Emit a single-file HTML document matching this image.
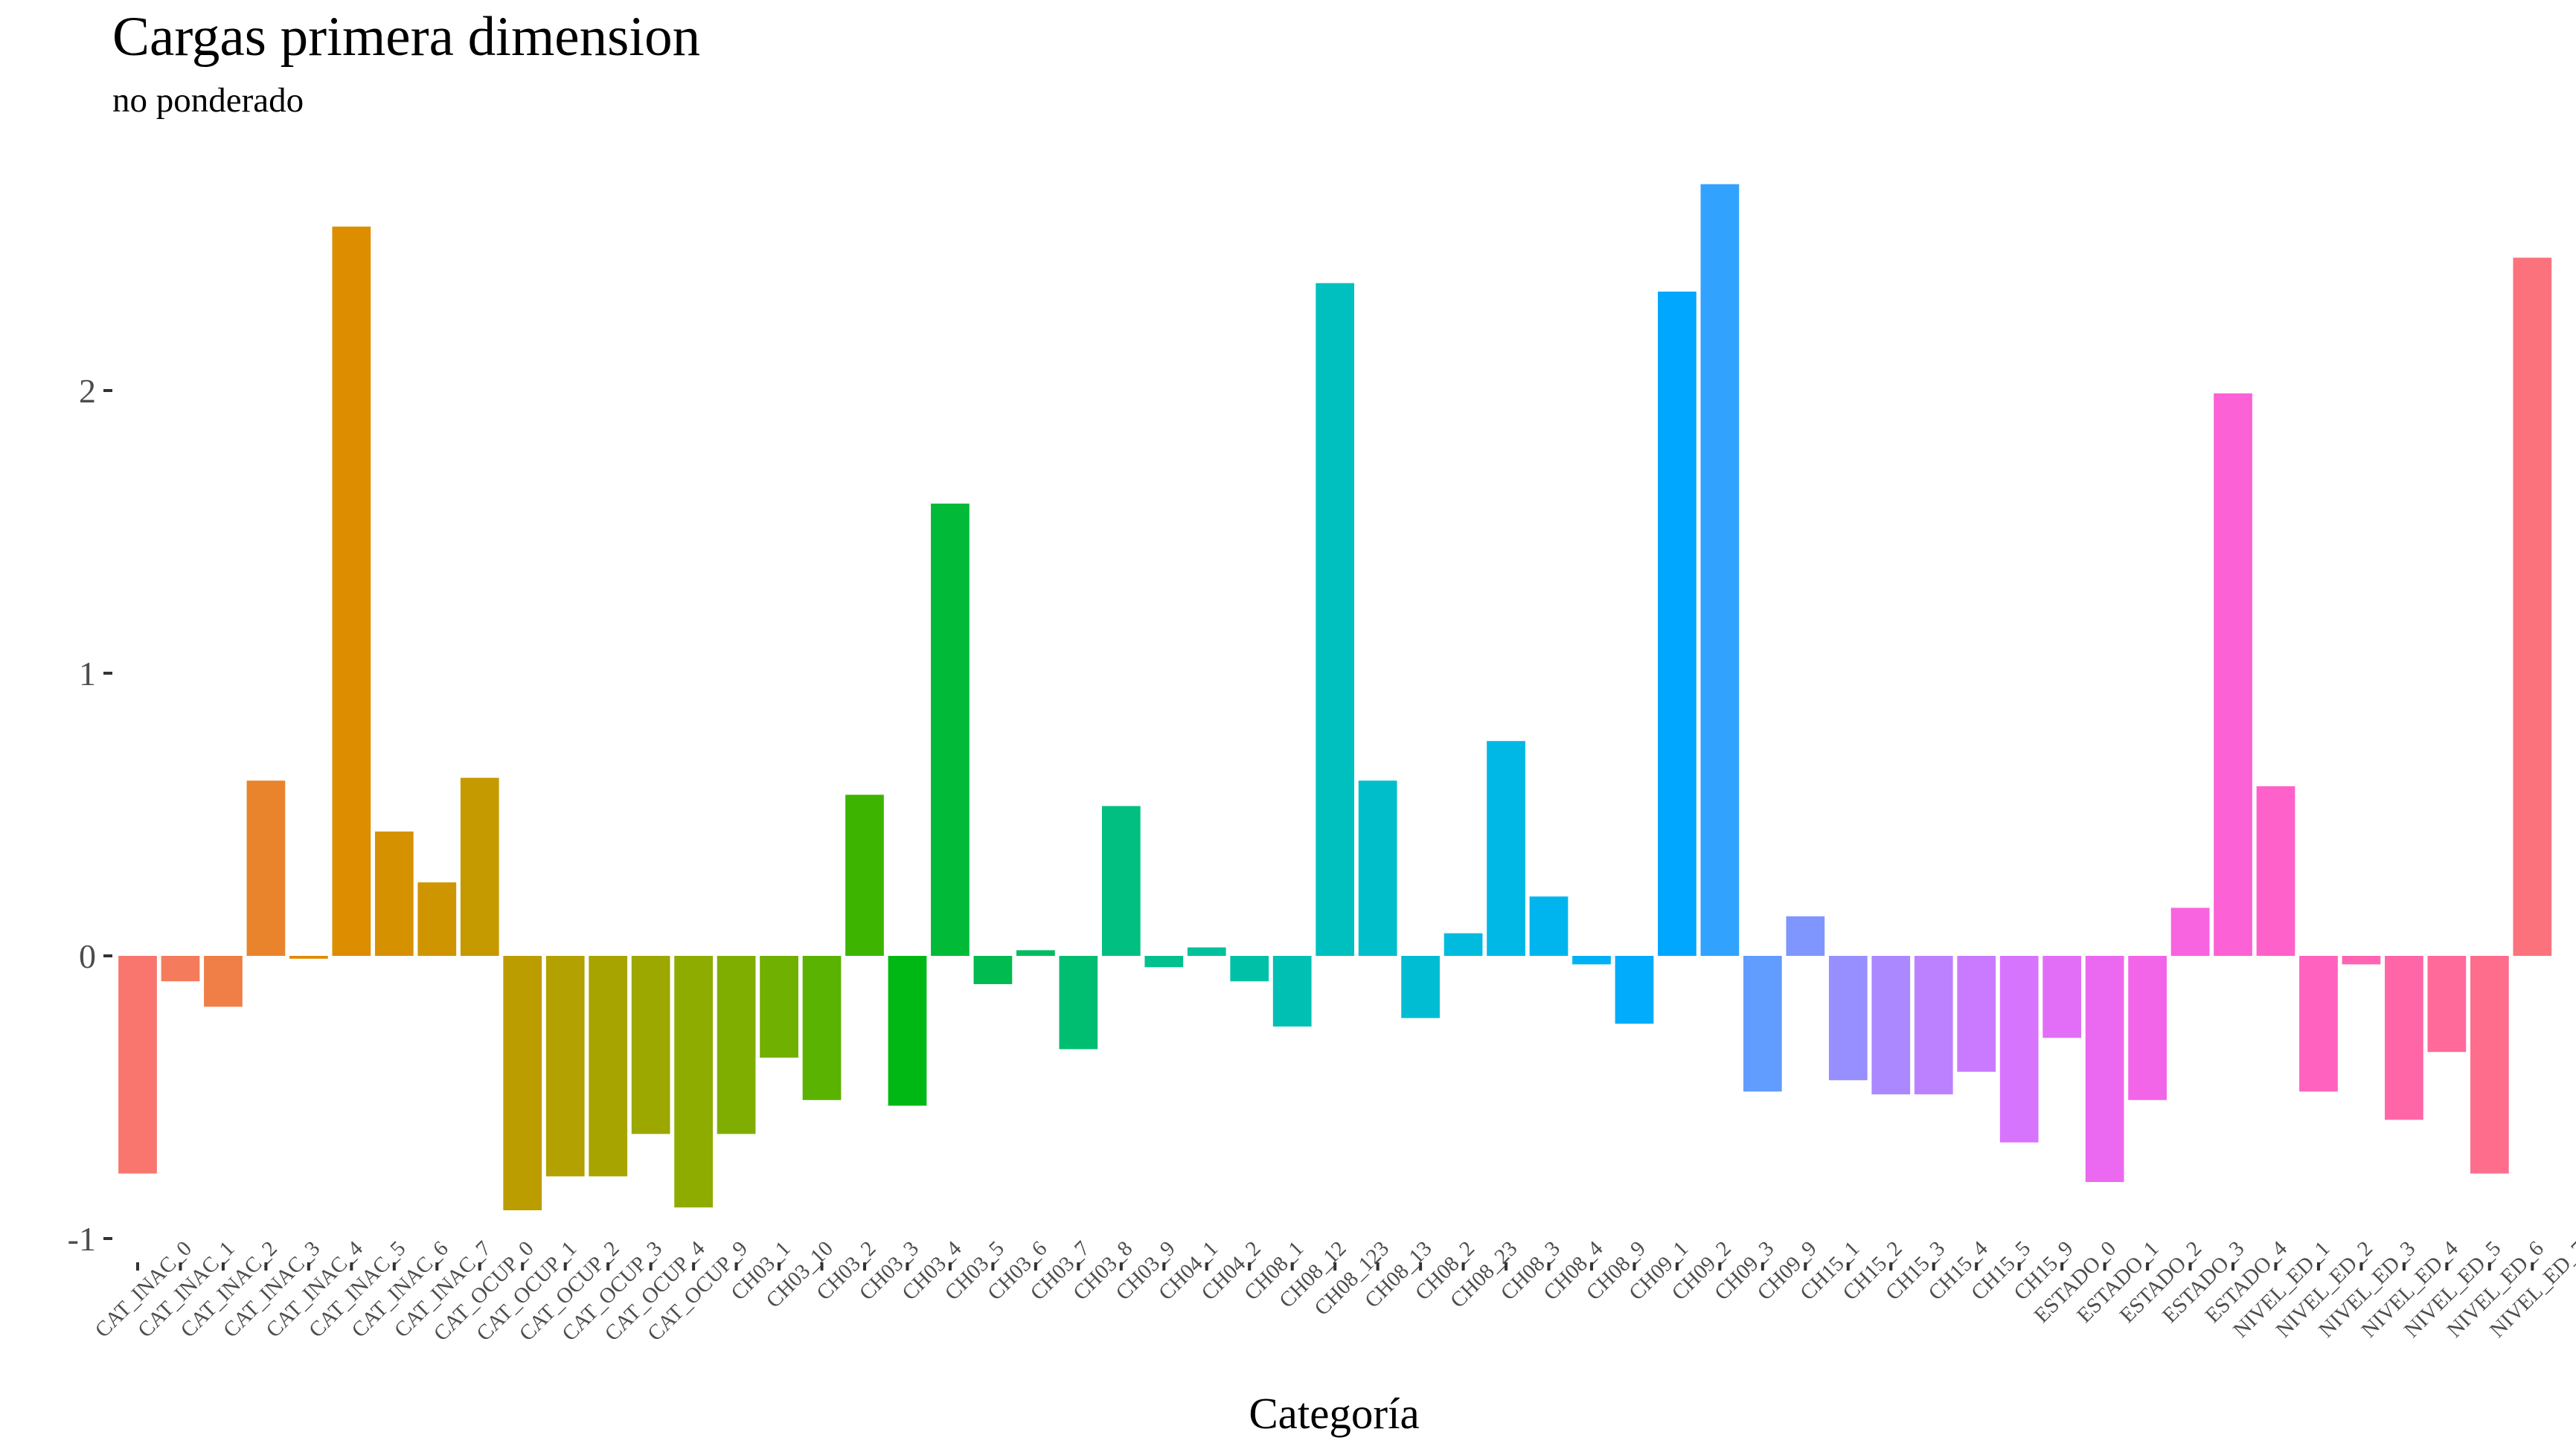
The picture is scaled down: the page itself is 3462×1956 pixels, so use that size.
<!DOCTYPE html>
<html><head><meta charset="utf-8"><style>
html,body{margin:0;padding:0;background:#fff;}
svg{display:block;font-family:"Liberation Serif",serif;}
</style></head><body>
<svg id="chart" width="3462" height="1956" viewBox="0 0 3462 1956" xmlns="http://www.w3.org/2000/svg">
<rect width="3462" height="1956" fill="#fff"/>
<text x="151" y="74" font-size="75" fill="#000">Cargas primera dimension</text>
<text x="151" y="150" font-size="47" fill="#000">no ponderado</text>
<text x="1793" y="1920" font-size="59" fill="#000" text-anchor="middle">Categoría</text>
<g id="yaxis"></g>
<g id="bars"></g>
<g id="xaxis"></g>
</svg>
<script>
const categories = ["CAT_INAC_0","CAT_INAC_1","CAT_INAC_2","CAT_INAC_3","CAT_INAC_4","CAT_INAC_5","CAT_INAC_6","CAT_INAC_7",
"CAT_OCUP_0","CAT_OCUP_1","CAT_OCUP_2","CAT_OCUP_3","CAT_OCUP_4","CAT_OCUP_9",
"CH03_1","CH03_10","CH03_2","CH03_3","CH03_4","CH03_5","CH03_6","CH03_7","CH03_8","CH03_9",
"CH04_1","CH04_2",
"CH08_1","CH08_12","CH08_123","CH08_13","CH08_2","CH08_23","CH08_3","CH08_4","CH08_9",
"CH09_1","CH09_2","CH09_3","CH09_9",
"CH15_1","CH15_2","CH15_3","CH15_4","CH15_5","CH15_9",
"ESTADO_0","ESTADO_1","ESTADO_2","ESTADO_3","ESTADO_4",
"NIVEL_ED_1","NIVEL_ED_2","NIVEL_ED_3","NIVEL_ED_4","NIVEL_ED_5","NIVEL_ED_6","NIVEL_ED_7"];
const values = [-0.77,-0.09,-0.18,0.62,-0.01,2.58,0.44,0.26,
0.63,-0.90,-0.78,-0.78,-0.63,-0.89,
-0.63,-0.36,-0.51,0.57,-0.53,1.60,-0.10,0.02,-0.33,0.53,
-0.04,0.03,
-0.09,-0.25,2.38,0.62,-0.22,0.08,0.76,0.21,-0.03,
-0.24,2.35,2.73,-0.48,
0.14,-0.44,-0.49,-0.49,-0.41,-0.66,
-0.29,-0.80,-0.51,0.17,1.99,
0.60,-0.48,-0.03,-0.58,-0.34,-0.77,2.47];
const yTicks = [-1,0,1,2];
const yTickLabels = ["-1","0","1","2"];

const NS="http://www.w3.org/2000/svg";
const x0=185, step=57.47, zeroY=1285, unit=380;
function xPos(i){return x0+i*step;}
function yPos(v){return zeroY - v*unit;}
function hcl(h,c,l){
  const hr=h*Math.PI/180,u=c*Math.cos(hr),v=c*Math.sin(hr);
  const Xn=95.047,Yn=100,Zn=108.883,d=Xn+15*Yn+3*Zn,un=4*Xn/d,vn=9*Yn/d;
  const Y=Yn*Math.pow((l+16)/116,3);
  const up=u/(13*l)+un,vp=v/(13*l)+vn;
  const X=9*Y*up/(4*vp),Z=-X/3-5*Y+3*Y/vp;
  const x=X/100,y=Y/100,z=Z/100;
  let r=3.2404542*x-1.5371385*y-0.4985314*z,g=-0.9692660*x+1.8760108*y+0.0415560*z,b=0.0556434*x-0.2040259*y+1.0572252*z;
  const gm=t=>{t=t<=0.0031308?12.92*t:1.055*Math.pow(t,1/2.4)-0.055;return Math.round(Math.max(0,Math.min(1,t))*255);};
  return "rgb("+gm(r)+","+gm(g)+","+gm(b)+")";
}
const n=categories.length;
const bars=document.getElementById('bars'),xa=document.getElementById('xaxis'),ya=document.getElementById('yaxis');
const hueDomain = categories.map((c,i)=>15+360*i/n);
categories.forEach((c,i)=>{
  const v=values[i],cx=xPos(i),w=step*0.9;
  const r=document.createElementNS(NS,'rect');
  r.setAttribute('x',cx-w/2);
  r.setAttribute('y',Math.min(yPos(v),yPos(0)));
  r.setAttribute('width',w);
  r.setAttribute('height',Math.abs(yPos(v)-yPos(0)));
  r.setAttribute('fill',hcl(hueDomain[i],100,65));
  
  
  bars.appendChild(r);
  const lx=cx+74,ly=1680;
  const tx=document.createElementNS(NS,'text');
  tx.setAttribute('x',lx);tx.setAttribute('y',ly);
  tx.setAttribute('text-anchor','end');tx.setAttribute('font-size',29);tx.setAttribute('fill','#4d4d4d');
  tx.setAttribute('transform','rotate(-45 '+lx+' '+ly+')');
  tx.textContent=c;
  
  
  xa.appendChild(tx);
  const t=document.createElementNS(NS,'line');
  t.setAttribute('x1',cx);t.setAttribute('x2',cx);t.setAttribute('y1',1697);t.setAttribute('y2',1708);
  t.setAttribute('stroke','#333');t.setAttribute('stroke-width',4);
  
  
  xa.appendChild(t);
});
yTicks.forEach((v,i)=>{
  const y=yPos(v);
  const t=document.createElementNS(NS,'line');
  t.setAttribute('x1',139);t.setAttribute('x2',151);t.setAttribute('y1',y);t.setAttribute('y2',y);
  t.setAttribute('stroke','#333');t.setAttribute('stroke-width',4);
  
  
  ya.appendChild(t);
  const tx=document.createElementNS(NS,'text');
  tx.setAttribute('x',129);tx.setAttribute('y',y+16);
  tx.setAttribute('text-anchor','end');tx.setAttribute('font-size',46);tx.setAttribute('fill','#4d4d4d');
  tx.textContent=yTickLabels[i];
  
  
  ya.appendChild(tx);
});
</script>
</body></html>
